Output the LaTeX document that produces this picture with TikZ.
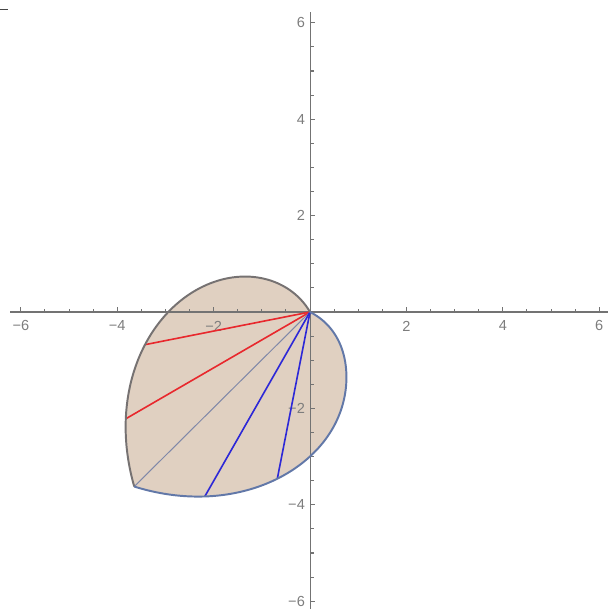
\documentclass[tikz,border=0pt]{standalone}
\usepackage{fontspec}
\setmainfont{Liberation Sans}
\definecolor{fillc}{RGB}{224,208,193}
\definecolor{axisc}{RGB}{115,115,115}
\definecolor{labc}{RGB}{125,125,125}
\definecolor{grayarc}{RGB}{118,114,114}
\definecolor{bluearc}{RGB}{98,120,168}
\definecolor{redray}{RGB}{232,40,45}
\definecolor{blueray}{RGB}{45,40,215}
\definecolor{grayray}{RGB}{128,136,168}
\tikzset{
  axisline/.style={draw=axisc, line width=0.6pt},
  ticklab/.style={text=labc, font=\fontsize{8.6}{10}\selectfont, inner sep=0pt},
  boundary/.style={line width=1.15pt, line join=round},
  rayline/.style={line width=0.95pt}
}
\begin{document}
\begin{tikzpicture}[x=1cm,y=1cm]
\useasboundingbox (-6.432,-6.162) rectangle (6.183,6.473);
% small mark top-left
\draw[line width=1.1pt, draw={rgb,255:red,70;green,70;blue,70}] (-6.432,6.276) -- (-6.266,6.276);
% key points
\coordinate (O) at (0,0);
\coordinate (r1) at (191.2:{0.04909*(191.2-120.1)});
\coordinate (r2) at (210.1:{0.04909*(210.1-120.1)});
\coordinate (c0) at (224.8:{0.04909*(224.8-120.1)});
\coordinate (b1) at (240.3:{0.04735*(333.36-240.3)});
\coordinate (b2) at (258.9:{0.04735*(333.36-258.9)});
% region fill
\fill[fillc] plot[domain=120.1:224.8,samples=120] (\x:{0.04909*(\x-120.1)})
  -- plot[domain=224.8:333.36,samples=120] (\x:{0.04735*(333.36-\x)-0.07*exp(-((302-\x)/18)^2)}) -- cycle;
% axes
\draw[axisline] (-6.22,0) -- (6.18,0);
\draw[axisline] (0,-6.16) -- (0,6.22);
\foreach \v in {-6,-4,-2,2,4,6} {
  \draw[axisline] (\v,0) -- (\v,0.105);
  \draw[axisline] (0,\v) -- (0.105,\v);
}
\foreach \v in {-5.5,-5,-4.5,-3.5,-3,-2.5,-1.5,-1,-0.5,0.5,1,1.5,2.5,3,3.5,4.5,5,5.5} {
  \draw[axisline] (\v,0) -- (\v,0.065);
  \draw[axisline] (0,\v) -- (0.075,\v);
}
\foreach \v/\t in {-6/−6,-4/−4,-2/−2,2/2,4/4,6/6} {
  \node[ticklab] (xl\v) at (\v,-0.29) {\t};
  \node[ticklab, anchor=east] (yl\v) at (-0.1,\v) {\t};
}
% rays
\draw[rayline, redray] (O) -- (r1);
\draw[rayline, redray] (O) -- (r2);
\draw[line width=0.6pt, grayray] (O) -- (c0);
\draw[rayline, blueray] (O) -- (b1);
\draw[rayline, blueray] (O) -- (b2);
% boundary
\draw[boundary, grayarc] plot[domain=120.1:224.8,samples=120] (\x:{0.04909*(\x-120.1)});
\draw[boundary, bluearc] plot[domain=224.8:333.36,samples=120] (\x:{0.04735*(333.36-\x)-0.07*exp(-((302-\x)/18)^2)});
\end{tikzpicture}
\end{document}
